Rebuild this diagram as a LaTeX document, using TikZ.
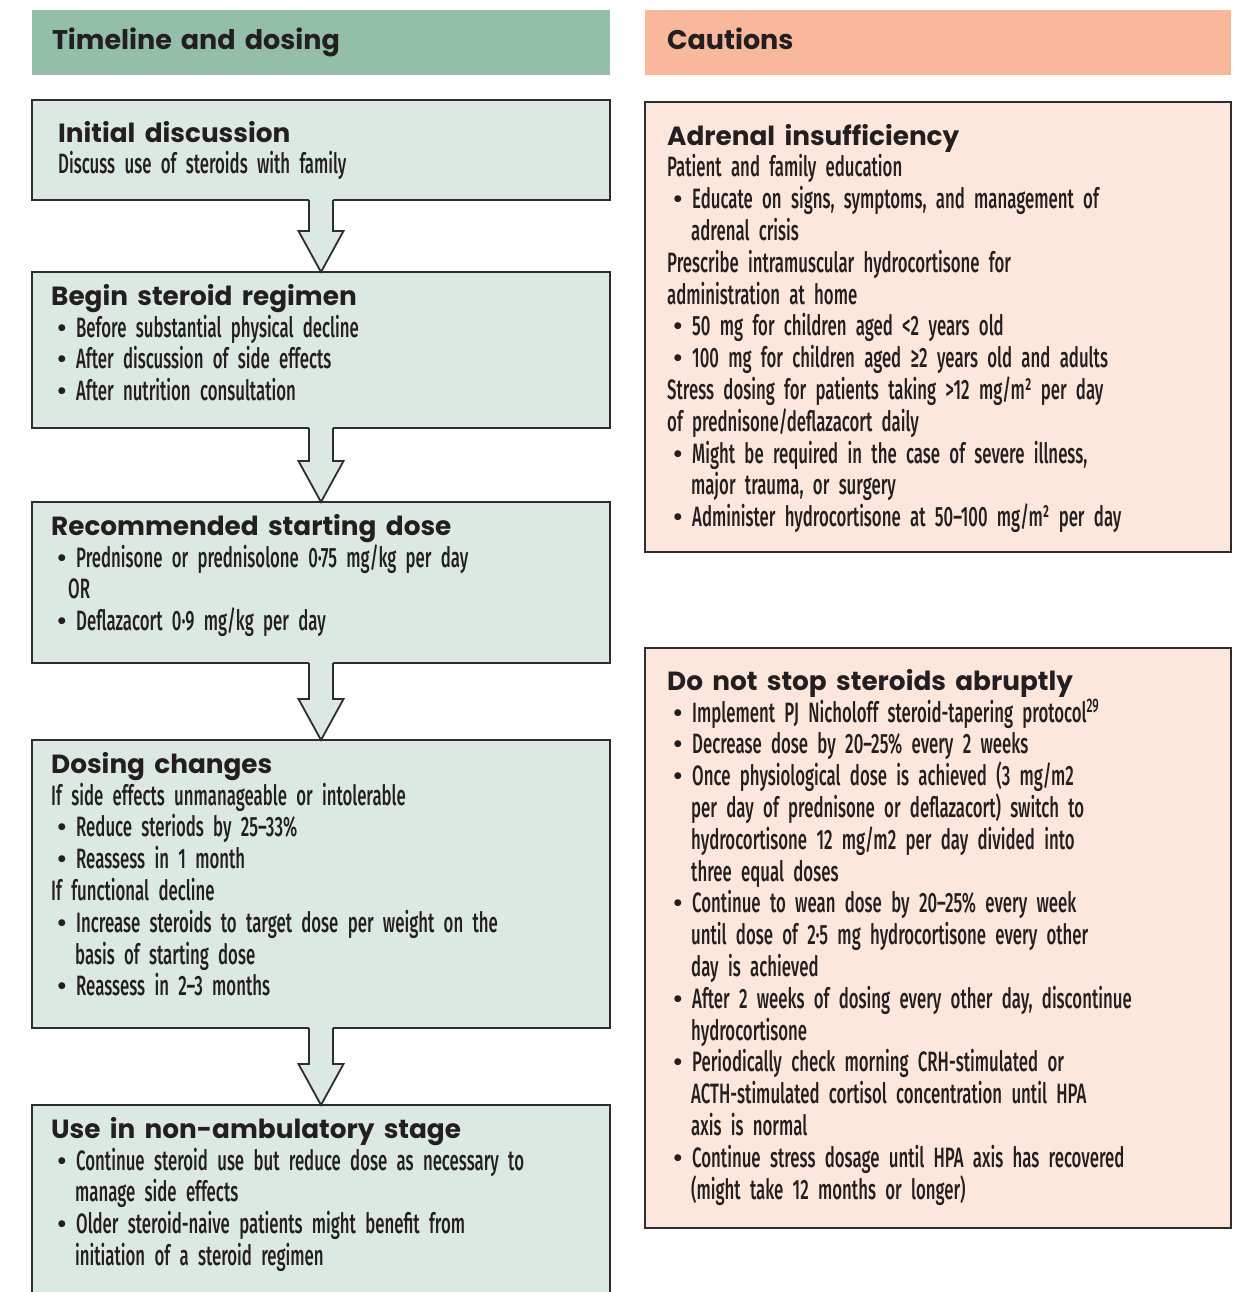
\documentclass[tikz,border=0pt]{standalone}
\usepackage{fontspec}
\usepackage{tikz}
\usetikzlibrary{positioning,calc}
\newfontfamily\headfont{Poppins}
\newfontfamily\bodyfont{Fira Sans}[UprightFont={* Medium}, FakeStretch=0.6]
\definecolor{hdrgreen}{HTML}{93BFA8}
\definecolor{boxgreen}{HTML}{DCE9E2}
\definecolor{hdrsalmon}{HTML}{F9B89B}
\definecolor{boxsalmon}{HTML}{FDE7DD}
\definecolor{linegray}{HTML}{2E2E2E}
\definecolor{ink}{HTML}{231F20}
\newcommand{\hd}[1]{{\headfont\bfseries\fontsize{26.3}{31.8}\selectfont\rule{0pt}{30pt}#1}}
\newcommand{\bul}{\hspace*{5pt}\makebox[20pt][l]{\headfont\fontsize{28}{31.8}\selectfont\textbullet}}
\newcommand{\cont}{\hspace*{24pt}}
\newcommand{\bodysetup}{\bodyfont\fontsize{28}{31.8}\selectfont\lineskiplimit=-50pt\parindent=0pt}
\newcommand{\flowarrow}[2]{%
  \fill[boxgreen] let \p1=(#1.south), \p2=(#2.north) in
    (\x1-12pt,\y1+1.5pt) -- (\x1-12pt,\y2+41pt) -- (\x1-22.5pt,\y2+41pt) -- (\x1,\y2)
    -- (\x1+22.5pt,\y2+41pt) -- (\x1+12pt,\y2+41pt) -- (\x1+12pt,\y1+1.5pt) -- cycle;
  \draw[outline] let \p1=(#1.south), \p2=(#2.north) in
    (\x1-12pt,\y1) -- (\x1-12pt,\y2+41pt) -- (\x1-22.5pt,\y2+41pt) -- (\x1,\y2)
    -- (\x1+22.5pt,\y2+41pt) -- (\x1+12pt,\y2+41pt) -- (\x1+12pt,\y1);}

\begin{document}
\begin{tikzpicture}[
    x=1pt, y=-1pt,
    outline/.style={draw=linegray, line width=1.8pt},
    hdr/.style={rectangle, anchor=north west, minimum height=65pt, inner xsep=20pt, inner ysep=0pt, outer sep=0pt, align=left, text=ink, text height=20pt, text depth=6pt, font=\headfont\bfseries\fontsize{27}{30}\selectfont},
    gbox/.style={rectangle, outline, fill=boxgreen, minimum width=578pt, inner sep=0pt, outer sep=0pt},
    sbox/.style={rectangle, outline, fill=boxsalmon, minimum width=586pt, inner sep=0pt, outer sep=0pt},
    txt/.style={anchor=north west, inner sep=0pt, align=left, text width=560pt, text=ink, font=\bodysetup}
]
\fill[white] (0,0) rectangle (1241,1292);
\useasboundingbox (0,0) rectangle (1241,1292);
\clip (0,0) rectangle (1241,1292);

% column headers
\node[hdr, fill=hdrgreen, text width=538pt] (hdr-time) at (32,10) {Timeline and dosing};
\node[hdr, fill=hdrsalmon, text width=542pt, inner xsep=22pt] (hdr-caut) at (645,10) {Cautions};

% timeline boxes
\node[gbox, minimum height=100pt, anchor=north] (init) at (321,100) {};
\node[gbox, minimum height=156pt, below=72pt of init] (begin) {};
\node[gbox, minimum height=161pt, below=74pt of begin] (start) {};
\node[gbox, minimum height=288pt, below=77pt of start] (dosing) {};
\node[gbox, minimum height=220pt, below=77pt of dosing] (nonamb) {};

% caution boxes
\node[sbox, minimum height=450pt, anchor=north west] (adrenal) at (645,102) {};
\node[sbox, minimum height=580pt, below=96pt of adrenal] (taper) {};

\flowarrow{init}{begin}
\flowarrow{begin}{start}
\flowarrow{start}{dosing}
\flowarrow{dosing}{nonamb}

\node[txt] (t-init) at ([xshift=26pt,yshift=-12pt]init.north west) {%
\hd{Initial discussion}\\
Discuss use of steroids with family};

\node[txt] (t-begin) at ([xshift=19pt,yshift=-3pt]begin.north west) {%
\hd{Begin steroid regimen}\\
\bul Before substantial physical decline\\
\bul After discussion of side effects\\
\bul After nutrition consultation};

\node[txt] (t-start) at ([xshift=19pt,yshift=-3pt]start.north west) {%
\hd{Recommended starting dose}\\
\bul Prednisone or prednisolone 0·75 mg/kg per day\\
\hspace*{17pt}OR\\
\bul Deflazacort 0·9 mg/kg per day};

\node[txt] (t-dosing) at ([xshift=19pt,yshift=-3pt]dosing.north west) {%
\hd{Dosing changes}\\
If side effects unmanageable or intolerable\\
\bul Reduce steriods by 25–33\%\\
\bul Reassess in 1 month\\
If functional decline\\
\bul Increase steroids to target dose per weight on the\\
\cont basis of starting dose\\
\bul Reassess in 2–3 months};

\node[txt] (t-nonamb) at ([xshift=19pt,yshift=-3pt]nonamb.north west) {%
\hd{Use in non-ambulatory stage}\\
\bul Continue steroid use but reduce dose as necessary to\\
\cont manage side effects\\
\bul Older steroid-naive patients might benefit from\\
\cont initiation of a steroid regimen};

\node[txt] (t-adrenal) at ([xshift=22pt,yshift=-13pt]adrenal.north west) {%
\hd{Adrenal insufficiency}\\
Patient and family education\\
\bul Educate on signs, symptoms, and management of\\
\cont adrenal crisis\\
Prescribe intramuscular hydrocortisone for\\
administration at home\\
\bul 50 mg for children aged <2 years old\\
\bul 100 mg for children aged ≥2 years old and adults\\
Stress dosing for patients taking >12 mg/m² per day\\
of prednisone/deflazacort daily\\
\bul Might be required in the case of severe illness,\\
\cont major trauma, or surgery\\
\bul Administer hydrocortisone at 50–100 mg/m² per day};

\node[txt] (t-taper) at ([xshift=22pt,yshift=-12pt]taper.north west) {%
\hd{Do not stop steroids abruptly}\\
\bul Implement PJ Nicholoff steroid-tapering protocol\textsuperscript{29}\\
\bul Decrease dose by 20–25\% every 2 weeks\\
\bul Once physiological dose is achieved (3 mg/m2\\
\cont per day of prednisone or deflazacort) switch to\\
\cont hydrocortisone 12 mg/m2 per day divided into\\
\cont three equal doses\\
\bul Continue to wean dose by 20–25\% every week\\
\cont until dose of 2·5 mg hydrocortisone every other\\
\cont day is achieved\\
\bul After 2 weeks of dosing every other day, discontinue\\
\cont hydrocortisone\\
\bul Periodically check morning CRH-stimulated or\\
\cont ACTH-stimulated cortisol concentration until HPA\\
\cont axis is normal\\
\bul Continue stress dosage until HPA axis has recovered\\
\cont (might take 12 months or longer)};

\end{tikzpicture}
\end{document}
